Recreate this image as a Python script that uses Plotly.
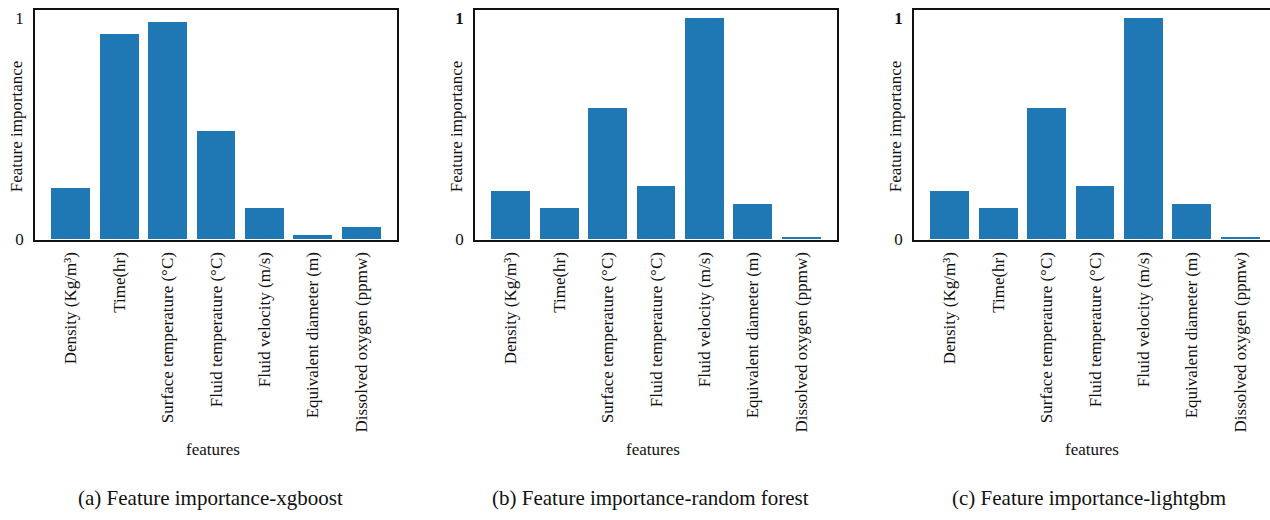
import plotly.graph_objects as go

# Feature names (x-axis categories)
features = [
    "Density (Kg/m³)",
    "Time(hr)",
    "Surface temperature (°C)",
    "Fluid temperature (°C)",
    "Fluid velocity (m/s)",
    "Equivalent diameter (m)",
    "Dissolved oxygen (ppmw)",
]

# Normalised feature importances per model
xgboost_imp = [0.230, 0.926, 0.981, 0.488, 0.140, 0.021, 0.055]
random_forest_imp = [0.220, 0.143, 0.595, 0.240, 1.000, 0.162, 0.012]
lightgbm_imp = [0.220, 0.143, 0.595, 0.240, 1.000, 0.162, 0.012]

captions = [
    "(a) Feature importance-xgboost",
    "(b) Feature importance-random forest",
    "(c) Feature importance-lightgbm",
]
one_labels = ["1", "<b>1</b>", "<b>1</b>"]

W, H = 1270, 520
FONT = "Liberation Serif, Times New Roman, serif"
BAR = "#1f77b4"
INK = "#111"

# pixel geometry of the three panels
left_px = [35, 475, 914]
panel_w = 362
top_px, bot_px = 9.3, 243.7
x_lo, x_hi = -0.74, 6.74
y_hi = 1.035

fig = go.Figure()
series = [xgboost_imp, random_forest_imp, lightgbm_imp]
idx = list(range(len(features)))

for i, vals in enumerate(series):
    n = "" if i == 0 else str(i + 1)
    l = left_px[i]
    r = l + panel_w
    hi = x_hi
    clipped = r > W
    if clipped:
        # panel runs past the page edge: trim domain, keep scale
        hi = x_lo + (x_hi - x_lo) * (W - l) / panel_w
        r = W
    fig.add_trace(go.Bar(
        x=idx, y=vals, width=0.8,
        marker=dict(color=BAR, line=dict(width=0)),
        xaxis="x" + n, yaxis="y" + n, showlegend=False,
    ))
    fig.layout["xaxis" + n] = dict(
        domain=[l / W, r / W], range=[x_lo, hi], anchor="y" + n,
        tickmode="array", tickvals=idx, ticktext=features, tickangle=-90,
        ticks="", showgrid=False, zeroline=False,
        showline=True, linecolor=INK, linewidth=1.5, mirror=True,
        tickfont=dict(family=FONT, size=17, color=INK),
        ticklabelstandoff=4,
    )
    fig.layout["yaxis" + n] = dict(
        domain=[1 - bot_px / H, 1 - top_px / H], range=[0, y_hi],
        anchor="x" + n,
        tickmode="array", tickvals=[0, 1], ticktext=["0", one_labels[i]],
        ticks="", showgrid=False, zeroline=False,
        showline=True, linecolor=INK, linewidth=1.5,
        mirror=not clipped,
        tickfont=dict(family=FONT, size=17, color=INK),
        ticklabelstandoff=6,
    )
    cx = (left_px[i] + left_px[i] + panel_w) / 2
    fig.add_annotation(
        x=(left_px[i] - 19) / W, y=1 - 128 / H, xref="paper", yref="paper",
        text="Feature importance", textangle=-90, showarrow=False,
        font=dict(family=FONT, size=17, color=INK),
        xanchor="center", yanchor="middle",
    )
    fig.add_annotation(
        x=(cx - 3) / W, y=1 - 458 / H, xref="paper", yref="paper",
        text="features", showarrow=False,
        font=dict(family=FONT, size=17, color=INK),
        xanchor="center", yanchor="middle",
    )
    fig.add_annotation(
        x=(cx - 6) / W, y=1 - 508 / H, xref="paper", yref="paper",
        text=captions[i], showarrow=False,
        font=dict(family=FONT, size=21, color=INK),
        xanchor="center", yanchor="middle",
    )

fig.update_layout(
    width=W, height=H,
    margin=dict(l=0, r=0, t=0, b=0),
    paper_bgcolor="white", plot_bgcolor="white",
    bargap=0,
)

fig.write_html("out.html")
